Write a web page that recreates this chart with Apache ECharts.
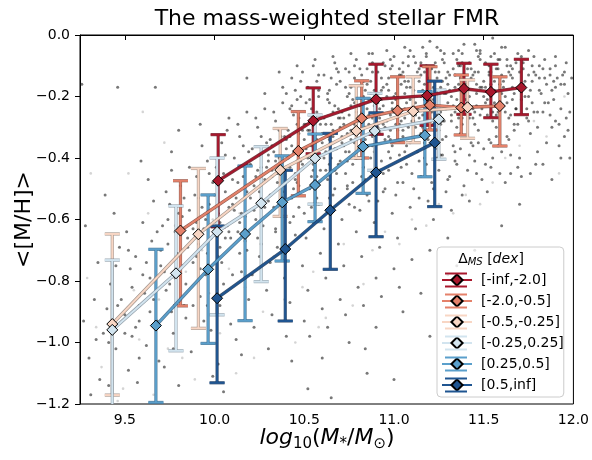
<!DOCTYPE html>
<html>
<head>
<meta charset="utf-8">
<script src="https://cdn.jsdelivr.net/npm/echarts@6/dist/echarts.min.js"></script>
<style>html,body{margin:0;padding:0;background:#fff}#c{width:592px;height:460px}</style>
</head>
<body>
<div id="c"></div>
<script>
// ---- data ----
const seriesNames = ['[-inf,-2.0]', '[-2.0,-0.5]', '[-0.5,-0.25]', '[-0.25,0.25]', '[0.25,0.5]', '[0.5,inf]'];

const x1 = [10.02, 10.55, 10.90, 11.185, 11.39, 11.54, 11.71];
const y1 = [-0.474, -0.279, -0.209, -0.197, -0.175, -0.185, -0.171];
const hi1 = [-0.324, -0.172, -0.095, -0.100, -0.092, -0.095, -0.079];
const lo1 = [-0.624, -0.386, -0.323, -0.294, -0.258, -0.269, -0.259];

const x2 = [9.81, 10.467, 10.82, 11.02, 11.20, 11.375, 11.59];
const y2 = [-0.636, -0.377, -0.271, -0.246, -0.228, -0.236, -0.231];
const hi2 = [-0.474, -0.249, -0.149, -0.136, -0.103, -0.130, -0.136];
const lo2 = [-0.881, -0.523, -0.400, -0.350, -0.309, -0.325, -0.361];

const x3 = [9.43, 9.91, 10.366, 10.79, 11.107, 11.41];
const y3 = [-0.940, -0.648, -0.439, -0.312, -0.248, -0.235];
const hi3 = [-0.647, -0.434, -0.304, -0.165, -0.136, -0.146];
const lo3 = [-1.171, -0.954, -0.590, -0.400, -0.350, -0.336];

const x4 = [9.43, 9.785, 10.014, 10.26, 10.56, 10.893, 11.25];
const y4 = [-0.959, -0.775, -0.640, -0.547, -0.401, -0.312, -0.274];
const hi4 = [-0.732, -0.556, -0.400, -0.363, -0.260, -0.190, -0.179];
const lo4 = [-1.250, -1.027, -0.910, -0.802, -0.550, -0.440, -0.404];

const x5 = [9.673, 9.964, 10.17, 10.377, 10.56, 10.828, 11.172];
const y5 = [-0.945, -0.762, -0.647, -0.544, -0.488, -0.363, -0.326];
const hi5 = [-0.697, -0.520, -0.426, -0.393, -0.322, -0.206, -0.184];
const lo5 = [-1.195, -1.003, -0.929, -0.735, -0.607, -0.515, -0.461];

const x6 = [10.014, 10.394, 10.645, 10.90, 11.227];
const y6 = [-0.856, -0.696, -0.570, -0.447, -0.350];
const hi6 = [-0.621, -0.440, -0.320, -0.253, -0.150];
const lo6 = [-1.131, -0.930, -0.762, -0.656, -0.558];

const xTicks = [9.5, 10.0, 10.5, 11.0, 11.5, 12.0];
const yTicks = [0.0, -0.2, -0.4, -0.6, -0.8, -1.0, -1.2];

// background galaxies (approximate positions)
const bgDark = [
[9.27,-0.93],[9.30,-1.05],[9.33,-0.86],[9.36,-1.12],[9.28,-0.62],[9.38,-0.97],[9.35,-0.74],[9.31,-1.17],[9.26,-0.16],[9.39,-0.52],
[9.42,-0.81],[9.45,-1.02],[9.47,-0.69],[9.50,-0.91],[9.52,-1.09],[9.44,-0.58],[9.48,-0.86],[9.53,-0.76],[9.41,-1.14],[9.46,-0.17],[9.51,-0.64],[9.54,-0.98],
[9.56,-0.72],[9.58,-0.88],[9.60,-0.61],[9.62,-1.01],[9.64,-0.79],[9.66,-0.54],[9.68,-0.93],[9.57,-1.13],[9.61,-0.84],[9.65,-0.67],[9.69,-1.06],[9.63,-0.47],[9.67,-0.17],[9.59,-0.41],[9.70,-0.75],
[9.71,-0.62],[9.73,-0.83],[9.75,-0.55],[9.77,-0.97],[9.79,-0.71],[9.81,-0.49],[9.83,-0.88],[9.72,-1.08],[9.74,-0.68],[9.76,-0.44],[9.78,-0.79],[9.80,-1.14],[9.82,-0.59],[9.84,-0.92],[9.76,-0.38],[9.85,-0.66],[9.73,-0.51],[9.80,-0.31],
[9.86,-0.57],[9.88,-0.74],[9.90,-0.46],[9.92,-0.85],[9.94,-0.63],[9.96,-0.41],[9.98,-0.96],[9.87,-1.03],[9.89,-0.52],[9.91,-0.68],[9.93,-0.36],[9.95,-0.78],[9.97,-0.55],[9.99,-1.11],[9.88,-0.88],[9.92,-0.29],[9.96,-0.71],[9.99,-0.48],[9.90,-0.61],[9.94,-0.93],
[10.01,-0.43],[10.02,-0.58],[10.03,-0.69],[10.04,-0.35],[10.05,-0.81],[10.06,-0.51],[10.07,-0.62],[10.08,-0.27],[10.09,-0.94],[10.10,-0.47],[10.02,-1.07],[10.04,-0.74],[10.06,-0.39],[10.08,-0.56],[10.03,-0.88],[10.07,-0.31],[10.09,-0.66],[10.05,-1.16],
[10.11,-0.40],[10.12,-0.53],[10.13,-0.64],[10.14,-0.33],[10.15,-0.77],[10.16,-0.46],[10.17,-0.59],[10.18,-0.25],[10.19,-0.86],[10.20,-0.42],[10.12,-0.99],[10.14,-0.71],[10.16,-0.36],[10.18,-0.51],[10.13,-0.29],[10.17,-0.67],[10.19,-0.38],[10.15,-1.04],[10.11,-0.57],[10.18,-0.14],
[10.21,-0.37],[10.22,-0.49],[10.23,-0.60],[10.24,-0.30],[10.25,-0.72],[10.26,-0.43],[10.27,-0.55],[10.28,-0.24],[10.29,-0.83],[10.30,-0.39],[10.22,-0.95],[10.24,-0.66],[10.26,-0.33],[10.28,-0.47],[10.23,-0.27],[10.27,-0.62],[10.29,-0.35],[10.25,-0.51],[10.21,-0.78],[10.28,-0.19],[10.30,-1.02],[10.24,-0.44],
[10.31,-0.34],[10.32,-0.46],[10.33,-0.56],[10.34,-0.28],[10.35,-0.69],[10.36,-0.40],[10.37,-0.52],[10.38,-0.22],[10.39,-0.79],[10.40,-0.37],[10.32,-0.91],[10.34,-0.63],[10.36,-0.31],[10.38,-0.44],[10.33,-0.25],[10.37,-0.59],[10.39,-0.33],[10.35,-0.48],[10.31,-0.74],[10.38,-0.17],[10.40,-0.98],[10.34,-0.41],[10.36,-0.12],[10.32,-0.36],
[10.41,-0.31],[10.42,-0.43],[10.43,-0.53],[10.44,-0.26],[10.45,-0.65],[10.46,-0.37],[10.47,-0.49],[10.48,-0.20],[10.49,-0.75],[10.50,-0.34],[10.42,-0.87],[10.44,-0.59],[10.46,-0.29],[10.48,-0.41],[10.43,-0.23],[10.47,-0.56],[10.49,-0.31],[10.45,-0.45],[10.41,-0.70],[10.48,-0.15],[10.50,-0.93],[10.44,-0.38],[10.46,-0.10],[10.42,-0.33],[10.47,-0.27],[10.43,-1.06],
[10.51,-0.29],[10.52,-0.40],[10.53,-0.50],[10.54,-0.24],[10.55,-0.61],[10.56,-0.35],[10.57,-0.46],[10.58,-0.18],[10.59,-0.71],[10.60,-0.32],[10.52,-0.83],[10.54,-0.56],[10.56,-0.27],[10.58,-0.39],[10.53,-0.21],[10.57,-0.53],[10.59,-0.29],[10.55,-0.42],[10.51,-0.66],[10.58,-0.13],[10.60,-0.89],[10.54,-0.36],[10.56,-0.08],[10.52,-0.31],[10.57,-0.25],[10.53,-0.98],[10.59,-0.44],
[10.61,-0.27],[10.62,-0.38],[10.63,-0.47],[10.64,-0.22],[10.65,-0.58],[10.66,-0.33],[10.67,-0.44],[10.68,-0.16],[10.69,-0.68],[10.70,-0.30],[10.62,-0.79],[10.64,-0.53],[10.66,-0.25],[10.68,-0.37],[10.63,-0.19],[10.67,-0.50],[10.69,-0.27],[10.65,-0.40],[10.61,-0.63],[10.68,-0.11],[10.70,-0.86],[10.64,-0.34],[10.66,-0.07],[10.62,-0.29],[10.67,-0.23],[10.63,-0.95],[10.69,-0.42],[10.65,-0.14],
[10.71,-0.25],[10.72,-0.36],[10.73,-0.45],[10.74,-0.20],[10.75,-0.55],[10.76,-0.31],[10.77,-0.42],[10.78,-0.14],[10.79,-0.64],[10.80,-0.28],[10.72,-0.75],[10.74,-0.50],[10.76,-0.23],[10.78,-0.35],[10.73,-0.17],[10.77,-0.48],[10.79,-0.25],[10.75,-0.38],[10.71,-0.60],[10.78,-0.10],[10.80,-0.82],[10.74,-0.32],[10.76,-0.06],[10.72,-0.27],[10.77,-0.21],[10.73,-0.91],[10.79,-0.40],[10.75,-0.12],[10.71,-0.33],[10.78,-0.29],
[10.81,-0.23],[10.82,-0.34],[10.83,-0.43],[10.84,-0.18],[10.85,-0.52],[10.86,-0.29],[10.87,-0.40],[10.88,-0.12],[10.89,-0.61],[10.90,-0.26],[10.82,-0.72],[10.84,-0.47],[10.86,-0.21],[10.88,-0.33],[10.83,-0.15],[10.87,-0.46],[10.89,-0.23],[10.85,-0.36],[10.81,-0.57],[10.88,-0.09],[10.90,-0.79],[10.84,-0.30],[10.86,-0.06],[10.82,-0.25],[10.87,-0.19],[10.83,-0.88],[10.89,-0.38],[10.85,-0.11],[10.81,-0.31],[10.88,-0.27],[10.84,-1.02],
[10.91,-0.22],[10.92,-0.32],[10.93,-0.41],[10.94,-0.17],[10.95,-0.50],[10.96,-0.28],[10.97,-0.38],[10.98,-0.11],[10.99,-0.58],[11.00,-0.25],[10.92,-0.69],[10.94,-0.45],[10.96,-0.20],[10.98,-0.31],[10.93,-0.14],[10.97,-0.44],[10.99,-0.22],[10.95,-0.34],[10.91,-0.54],[10.98,-0.08],[11.00,-0.76],[10.94,-0.29],[10.96,-0.05],[10.92,-0.24],[10.97,-0.18],[10.93,-0.85],[10.99,-0.36],[10.95,-0.10],[10.91,-0.30],[10.98,-0.26],
[11.01,-0.21],[11.02,-0.31],[11.03,-0.39],[11.04,-0.16],[11.05,-0.48],[11.06,-0.27],[11.07,-0.36],[11.08,-0.10],[11.09,-0.56],[11.10,-0.24],[11.02,-0.66],[11.04,-0.43],[11.06,-0.19],[11.08,-0.30],[11.03,-0.13],[11.07,-0.42],[11.09,-0.21],[11.05,-0.33],[11.01,-0.52],[11.08,-0.07],[11.10,-0.73],[11.04,-0.28],[11.06,-0.04],[11.02,-0.23],[11.07,-0.17],[11.03,-0.82],[11.09,-0.35],[11.05,-0.09],[11.01,-0.29],[11.08,-0.25],
[11.11,-0.20],[11.12,-0.30],[11.13,-0.38],[11.14,-0.15],[11.15,-0.46],[11.16,-0.26],[11.17,-0.35],[11.18,-0.10],[11.19,-0.54],[11.20,-0.23],[11.12,-0.63],[11.14,-0.41],[11.16,-0.18],[11.18,-0.29],[11.13,-0.12],[11.17,-0.40],[11.19,-0.20],[11.15,-0.32],[11.11,-0.50],[11.18,-0.06],[11.20,-0.70],[11.14,-0.27],[11.16,-0.04],[11.12,-0.22],[11.17,-0.16],[11.19,-0.34],[11.15,-0.09],[11.11,-0.28],
[11.21,-0.19],[11.22,-0.29],[11.23,-0.37],[11.24,-0.14],[11.25,-0.44],[11.26,-0.25],[11.27,-0.34],[11.28,-0.09],[11.29,-0.51],[11.30,-0.22],[11.22,-0.60],[11.24,-0.40],[11.26,-0.17],[11.28,-0.28],[11.23,-0.12],[11.27,-0.39],[11.29,-0.19],[11.25,-0.31],[11.21,-0.48],[11.28,-0.06],[11.30,-0.66],[11.24,-0.26],[11.26,-0.05],[11.22,-0.21],[11.27,-0.15],[11.29,-0.33],
[11.31,-0.18],[11.32,-0.28],[11.33,-0.36],[11.34,-0.13],[11.35,-0.42],[11.36,-0.24],[11.37,-0.32],[11.38,-0.09],[11.39,-0.49],[11.40,-0.21],[11.32,-0.57],[11.34,-0.38],[11.36,-0.16],[11.38,-0.27],[11.33,-0.11],[11.37,-0.37],[11.39,-0.18],[11.35,-0.30],[11.31,-0.46],[11.38,-0.06],[11.34,-0.25],[11.36,-0.05],[11.32,-0.20],[11.37,-0.14],
[11.41,-0.18],[11.42,-0.27],[11.43,-0.35],[11.44,-0.13],[11.45,-0.41],[11.46,-0.23],[11.47,-0.31],[11.48,-0.08],[11.49,-0.47],[11.50,-0.20],[11.42,-0.54],[11.44,-0.36],[11.46,-0.16],[11.48,-0.26],[11.43,-0.11],[11.47,-0.35],[11.49,-0.17],[11.45,-0.29],[11.41,-0.44],[11.48,-0.06],[11.44,-0.24],[11.46,-0.05],
[11.51,-0.17],[11.52,-0.26],[11.53,-0.34],[11.54,-0.12],[11.55,-0.40],[11.56,-0.22],[11.57,-0.30],[11.58,-0.08],[11.59,-0.45],[11.60,-0.19],[11.52,-0.51],[11.54,-0.35],[11.56,-0.15],[11.58,-0.25],[11.53,-0.10],[11.57,-0.33],[11.59,-0.16],[11.55,-0.28],[11.51,-0.42],[11.56,-0.06],
[11.61,-0.17],[11.62,-0.25],[11.63,-0.33],[11.64,-0.12],[11.65,-0.39],[11.66,-0.21],[11.67,-0.29],[11.68,-0.09],[11.69,-0.43],[11.70,-0.18],[11.62,-0.48],[11.64,-0.34],[11.66,-0.14],[11.68,-0.24],[11.63,-0.10],[11.67,-0.31],[11.65,-0.26],
[11.72,-0.16],[11.74,-0.24],[11.76,-0.32],[11.78,-0.12],[11.80,-0.38],[11.73,-0.20],[11.75,-0.28],[11.77,-0.10],[11.79,-0.42],[11.81,-0.18],[11.83,-0.25],[11.71,-0.46],[11.84,-0.14],
[11.86,-0.22],[11.88,-0.30],[11.90,-0.17],[11.92,-0.36],[11.94,-0.13],[11.96,-0.27],[11.98,-0.40],[11.87,-0.11],
[10.60,-1.05],[10.75,-1.00],[10.90,-0.95],[11.05,-0.90],[10.85,-1.10],[11.15,-0.84],[11.30,-0.78],[11.45,-0.70],[11.60,-0.62],[10.52,-1.15],[11.20,-0.98],[11.00,-1.12],[10.65,-1.18],[11.70,-0.55],[11.35,-0.75],
[10.30,-0.41],[10.31,-0.52],[10.33,-0.38],[10.35,-0.45],[10.37,-0.33],[10.39,-0.49],[10.41,-0.40],[10.43,-0.36],[10.45,-0.47],[10.47,-0.32],[10.49,-0.42],
[10.51,-0.37],[10.53,-0.31],[10.55,-0.44],[10.57,-0.34],[10.59,-0.27],[10.61,-0.40],[10.63,-0.33],[10.65,-0.29],[10.67,-0.37],[10.69,-0.24],
[10.71,-0.35],[10.72,-0.29],[10.74,-0.41],[10.75,-0.26],[10.77,-0.32],[10.78,-0.22],[10.80,-0.37],[10.81,-0.28],[10.83,-0.20],[10.84,-0.34],[10.86,-0.26],[10.87,-0.31],[10.89,-0.18],[10.90,-0.35],
[10.92,-0.27],[10.93,-0.21],[10.95,-0.30],[10.96,-0.16],[10.98,-0.34],[10.99,-0.24],[11.01,-0.19],[11.02,-0.27],[11.04,-0.13],[11.05,-0.31],[11.07,-0.22],[11.08,-0.15],[11.10,-0.28],[11.11,-0.18],[11.13,-0.24],[11.14,-0.11],[11.16,-0.30],[11.17,-0.21],[11.19,-0.14],[11.20,-0.27],
[11.22,-0.17],[11.23,-0.23],[11.25,-0.12],[11.26,-0.29],[11.28,-0.19],[11.29,-0.24],[11.31,-0.13],[11.32,-0.26],[11.34,-0.17],[11.35,-0.21],[11.37,-0.10],[11.38,-0.29],[11.40,-0.16],[11.41,-0.22],[11.43,-0.14],[11.44,-0.27],[11.46,-0.19],[11.47,-0.12],[11.49,-0.24],[11.50,-0.15],
[11.52,-0.21],[11.53,-0.13],[11.55,-0.25],[11.56,-0.18],[11.58,-0.11],[11.59,-0.23],[11.61,-0.15],[11.62,-0.20],[11.64,-0.27],[11.65,-0.13],[11.67,-0.19],[11.68,-0.24],[11.70,-0.12],[11.71,-0.21],[11.73,-0.15],[11.74,-0.27],[11.76,-0.18],[11.77,-0.22],[11.79,-0.13],[11.80,-0.25],[11.82,-0.19],[11.85,-0.16],[11.87,-0.26],[11.89,-0.21],[11.91,-0.14],[11.93,-0.24],[11.97,-0.19],
[10.32,-0.44],[10.36,-0.55],[10.40,-0.34],[10.44,-0.50],[10.46,-0.41],[10.50,-0.29],[10.54,-0.39],[10.58,-0.48],[10.60,-0.35],[10.64,-0.42],[10.66,-0.31],[10.68,-0.45],[10.70,-0.27],[10.73,-0.38],[10.76,-0.34],[10.79,-0.29],[10.82,-0.40],[10.85,-0.24],[10.88,-0.36],[10.91,-0.29],[10.94,-0.23],[10.97,-0.33],[11.00,-0.20],[11.03,-0.29],[11.06,-0.24],[11.09,-0.17],[11.12,-0.26],[11.15,-0.20],[11.18,-0.31],[11.21,-0.25],[11.24,-0.19],[11.27,-0.28],[11.30,-0.16],[11.33,-0.23],[11.36,-0.27],[11.39,-0.13],[11.42,-0.20],[11.45,-0.25],[11.48,-0.17],[11.51,-0.22],[11.54,-0.16],[11.57,-0.26],[11.60,-0.13],[11.63,-0.22],[11.66,-0.17],[11.69,-0.29],[11.72,-0.11],[11.75,-0.20],[11.78,-0.25],[11.81,-0.14],[11.84,-0.22],[11.88,-0.18],[11.92,-0.29],[11.95,-0.16],
[9.95,-0.60],[9.98,-0.66],[10.00,-0.52],[10.03,-0.61],[10.05,-0.45],[10.08,-0.64],[10.10,-0.55],[10.13,-0.48],[10.15,-0.58],[10.18,-0.42],[10.20,-0.53],[10.23,-0.46],[10.25,-0.39],[10.28,-0.56],[10.29,-0.43],[9.90,-0.72],[9.93,-0.56],[9.85,-0.69],[9.82,-0.75],[9.78,-0.64],[9.75,-0.81],[9.70,-0.70],[9.66,-0.86],[9.62,-0.74],[9.58,-0.93],[9.54,-0.82],[9.50,-0.97],[9.46,-0.88],[9.41,-1.00],
[11.45,-0.03],[11.62,-0.04],[11.75,-0.05],[11.20,-0.02],[11.90,-0.07],[11.55,-0.01],
[10.40,-0.19],[10.43,-0.14],[10.46,-0.21],[10.49,-0.12],[10.52,-0.17],[10.55,-0.10],[10.58,-0.20],[10.61,-0.13],[10.64,-0.18],[10.67,-0.09],[10.70,-0.15],[10.73,-0.11],[10.76,-0.17],[10.79,-0.08],[10.82,-0.13],[10.85,-0.16],[10.88,-0.06],[10.91,-0.12],[10.94,-0.09],[10.97,-0.14],[11.00,-0.07],[11.03,-0.11],[11.06,-0.15],[11.09,-0.05],[11.12,-0.09],[11.15,-0.13],[11.18,-0.07],[11.21,-0.11],[11.24,-0.04],[11.27,-0.08],[11.30,-0.12],[11.33,-0.06],[11.36,-0.10],[11.39,-0.03],[11.42,-0.09],[11.45,-0.12],[11.48,-0.05],[11.51,-0.09],[11.54,-0.07],[11.57,-0.11],[11.60,-0.04],[11.63,-0.08],[11.66,-0.11],[11.69,-0.06],[11.72,-0.09],[11.75,-0.13],[11.78,-0.07],[11.81,-0.10],[11.84,-0.08],[11.87,-0.13],[11.90,-0.10],[11.93,-0.16],[11.96,-0.09],[11.99,-0.14],
[10.42,-0.24],[10.45,-0.18],[10.51,-0.22],[10.57,-0.15],[10.63,-0.21],[10.69,-0.12],[10.75,-0.19],[10.81,-0.11],[10.87,-0.15],[10.93,-0.18],[10.99,-0.10],[11.05,-0.12],[11.11,-0.07],[11.17,-0.12],[11.23,-0.09],[11.29,-0.14],[11.35,-0.08],[11.41,-0.11],[11.47,-0.07],[11.53,-0.12],[11.59,-0.08],[11.65,-0.10],[11.71,-0.07],[11.77,-0.15],[11.83,-0.11],[11.89,-0.15],[11.95,-0.12],
[11.80,-0.30],[11.85,-0.35],[11.90,-0.28],[11.95,-0.33],[11.98,-0.25],[11.83,-0.42],[11.93,-0.40],[11.88,-0.47],[11.76,-0.45],[11.70,-0.40],[11.65,-0.45],[11.60,-0.38],[11.97,-0.31],
[10.02,-0.72],[10.06,-0.66],[10.10,-0.78],[10.14,-0.61],[10.18,-0.70],[10.22,-0.57],[10.26,-0.68],[10.30,-0.54],[10.34,-0.64],[10.38,-0.51],[10.42,-0.61],[10.46,-0.48],[10.50,-0.58],[10.54,-0.46],[10.58,-0.55],[10.62,-0.44],[10.66,-0.52],[10.70,-0.41],[10.74,-0.49],[10.78,-0.56],[10.82,-0.46],[10.86,-0.54],[10.90,-0.43],[10.94,-0.51],[10.98,-0.40],[11.02,-0.48],[11.06,-0.38],[11.10,-0.45],[11.14,-0.53],[11.18,-0.42],[11.22,-0.50],[11.26,-0.39],[11.30,-0.47],[11.34,-0.41],[11.38,-0.52],[11.42,-0.39],[11.46,-0.45],[11.50,-0.37],[11.54,-0.43],[11.58,-0.36],
[9.52,-0.70],[9.56,-0.95],[9.60,-0.78],[9.64,-0.90],[9.68,-0.64],[9.72,-0.77],[9.76,-0.90],[9.80,-0.58],[9.84,-0.81],[9.88,-0.63],[9.92,-0.76],[9.96,-0.88],[10.00,-0.65],[9.86,-0.43],[9.91,-0.53],[9.97,-0.45],[9.83,-0.53],[9.74,-0.60],[9.45,-0.75],[9.40,-0.89],[9.34,-0.99],[9.58,-1.05],[9.77,-1.02]
];
const bgLight = [
[9.29,-0.79],[9.34,-0.95],[9.37,-1.08],[9.43,-0.66],[9.49,-1.15],[9.55,-0.83],[9.58,-0.99],[9.63,-0.58],[9.69,-0.86],[9.74,-1.02],[9.78,-0.62],[9.84,-0.77],[9.89,-1.12],[9.93,-0.70],[9.97,-0.84],[10.03,-0.97],[10.08,-0.76],[10.12,-1.10],[10.17,-0.82],[10.22,-1.05],[10.27,-0.90],[10.33,-0.72],[10.39,-0.86],[10.45,-1.00],[10.55,-0.77],[10.62,-0.92],[10.72,-0.68],[10.83,-0.81],[10.95,-0.64],[11.10,-0.60],[11.25,-0.55],[11.40,-0.52],[11.55,-0.48],[11.70,-0.36],[11.85,-0.33],[11.95,-0.20],[9.52,-0.45],[9.72,-0.35],[9.60,-0.25],[9.31,-0.45],[9.46,-1.19],[9.66,-1.17],[9.82,-1.05],[9.99,-0.60],[10.14,-0.58],[10.26,-0.62],[10.36,-0.93],[10.49,-0.82],[10.58,-0.95],[10.77,-0.88],[10.88,-0.70],[11.03,-0.68],[11.18,-0.62],[11.33,-0.58],[11.48,-0.55],[11.62,-0.40],[11.78,-0.28],[11.92,-0.45]
];

const colors = ['#a8172c', '#e4816a', '#f8d6c4', '#d2e4ef', '#5a9fcb', '#1f5591'];
const edgeColors = ['#5a0d18', '#7a3a2c', '#8a7a70', '#7a8a96', '#2a5a7e', '#0c2a50'];

// ---- chart ----
const groups = [
  [x1, y1, lo1, hi1], [x2, y2, lo2, hi2], [x3, y3, lo3, hi3],
  [x4, y4, lo4, hi4], [x5, y5, lo5, hi5], [x6, y6, lo6, hi6]
];
const FONT = 'DejaVu Sans';
const series = [];
series.push({
  type: 'scatter', data: bgLight, symbolSize: 2.6, silent: true, z: 1,
  itemStyle: { color: 'rgba(120,120,120,0.4)' }
});
series.push({
  type: 'scatter', data: bgDark, symbolSize: 3, silent: true, z: 1,
  itemStyle: { color: 'rgba(20,20,20,0.72)' }
});
groups.forEach((g, i) => {
  const [xs, ys, los, his] = g;
  const pts = xs.map((x, k) => [x, ys[k]]);
  const bars = xs.map((x, k) => [x, los[k], his[k]]);
  series.push({
    type: 'custom', name: seriesNames[i] + ' err', silent: true, z: 2, clip: true,
    data: bars,
    encode: { x: 0, y: [1, 2] },
    renderItem: function (params, api) {
      const x = api.value(0), lo = api.value(1), hi = api.value(2);
      const a = api.coord([x, lo]), b = api.coord([x, hi]);
      const hw = 7.5;
      const segs = [
        [a[0], a[1], b[0], b[1]],
        [a[0] - hw, a[1], a[0] + hw, a[1]],
        [b[0] - hw, b[1], b[0] + hw, b[1]]
      ];
      const children = [];
      segs.forEach(s => children.push({ type: 'line', shape: { x1: s[0], y1: s[1], x2: s[2], y2: s[3] }, style: { stroke: edgeColors[i], lineWidth: 3.2, opacity: 0.75 } }));
      segs.forEach(s => children.push({ type: 'line', shape: { x1: s[0], y1: s[1], x2: s[2], y2: s[3] }, style: { stroke: colors[i], lineWidth: 2 } }));
      return { type: 'group', children: children };
    }
  });
  series.push({
    type: 'line', name: seriesNames[i] + ' edge', data: pts, symbol: 'none', silent: true, z: 3,
    lineStyle: { color: edgeColors[i], width: 3.4, opacity: 0.8 }, emphasis: { disabled: true }
  });
  series.push({
    type: 'line', name: seriesNames[i], data: pts, z: 4,
    symbol: 'diamond', symbolSize: 11, showSymbol: true,
    lineStyle: { color: colors[i], width: 2 },
    itemStyle: { color: colors[i], borderColor: '#000', borderWidth: 1 },
    emphasis: { disabled: true }
  });
});

// legend error-bar caps (drawn over the legend handles)
const legendLeft = 437, legendTop = 247, legendPadTop = 26, rowH = 21;
const legendCaps = [];
seriesNames.forEach((n, i) => {
  const cy = legendTop + legendPadTop + 7 + i * rowH;
  [-6.5, 6.5].forEach(dy => legendCaps.push({
    type: 'line', z: 100, shape: { x1: legendLeft + 8, y1: cy + dy, x2: legendLeft + 30, y2: cy + dy },
    style: { stroke: colors[i], lineWidth: 2 }
  }));
});

const chart = echarts.init(document.getElementById('c'), null, { renderer: 'canvas' });
chart.setOption({
  animation: false,
  backgroundColor: '#fff',
  grid: { left: 80, right: 17, top: 35, bottom: 56, show: true, borderColor: '#000', borderWidth: 1, backgroundColor: 'transparent' },
  xAxis: {
    type: 'value', min: 9.25, max: 12.0,
    axisLine: { show: true, lineStyle: { color: '#000', width: 1 } },
    axisTick: { show: true, length: 5, lineStyle: { color: '#000', width: 1 }, customValues: xTicks },
    axisLabel: { customValues: xTicks, margin: 9, color: '#000', fontFamily: FONT, fontSize: 14, formatter: v => v.toFixed(1) },
    splitLine: { show: false }
  },
  yAxis: {
    type: 'value', min: -1.2, max: 0.0,
    axisLine: { show: true, lineStyle: { color: '#000', width: 1 } },
    axisTick: { show: true, length: 5, lineStyle: { color: '#000', width: 1 }, customValues: yTicks },
    axisLabel: { customValues: yTicks, margin: 10, color: '#000', fontFamily: FONT, fontSize: 14, formatter: v => (Math.abs(v) < 1e-9 ? '0.0' : v.toFixed(1).replace('-', '\u2212')) },
    splitLine: { show: false }
  },
  legend: {
    data: seriesNames, orient: 'vertical', left: legendLeft, top: legendTop,
    padding: [legendPadTop, 0, 5, 4], itemWidth: 30, itemHeight: 14, itemGap: rowH - 14,
    backgroundColor: 'rgba(255,255,255,0.8)', borderColor: '#cccccc', borderWidth: 1, borderRadius: 4,
    selectedMode: false,
    textStyle: { fontFamily: FONT, fontSize: 14, color: '#000', lineHeight: 14, padding: [0, 0, 0, 4] }
  },
  graphic: [
    { type: 'text', x: 327, y: 19, z: 100, style: { text: 'The mass-weighted stellar FMR', font: '22px "DejaVu Sans"', fill: '#000', align: 'center', verticalAlign: 'middle' } },
    { type: 'text', x: 24, y: 219.5, rotation: Math.PI / 2, z: 100, style: { text: '<[M/H]>', font: '22px "DejaVu Sans"', fill: '#000', align: 'center', verticalAlign: 'middle' } },
    { type: 'text', x: 327, y: 438, z: 100, style: {
        text: '{i|log}{s|10}{n|(}{i|M}{s|*}{n|/}{i|M}{s|\u2299}{n|)}',
        align: 'center', verticalAlign: 'middle', fill: '#000',
        rich: {
          i: { fontFamily: FONT, fontSize: 22, fontStyle: 'italic', fill: '#000' },
          n: { fontFamily: FONT, fontSize: 22, fill: '#000' },
          s: { fontFamily: FONT, fontSize: 15, fill: '#000', padding: [12, 0, 0, 0] }
        } } },
    { type: 'text', x: 491, y: 259, z: 100, style: {
        text: '{n|\u0394}{s|MS}{n| [}{i|dex}{n|]}',
        align: 'center', verticalAlign: 'middle', fill: '#000',
        rich: {
          i: { fontFamily: FONT, fontSize: 14, fontStyle: 'italic', fill: '#000' },
          n: { fontFamily: FONT, fontSize: 14, fill: '#000' },
          s: { fontFamily: FONT, fontSize: 10, fontStyle: 'italic', fill: '#000', padding: [7, 0, 0, 0] }
        } } }
  ].concat(legendCaps),
  series: series
});
</script>
</body>
</html>
